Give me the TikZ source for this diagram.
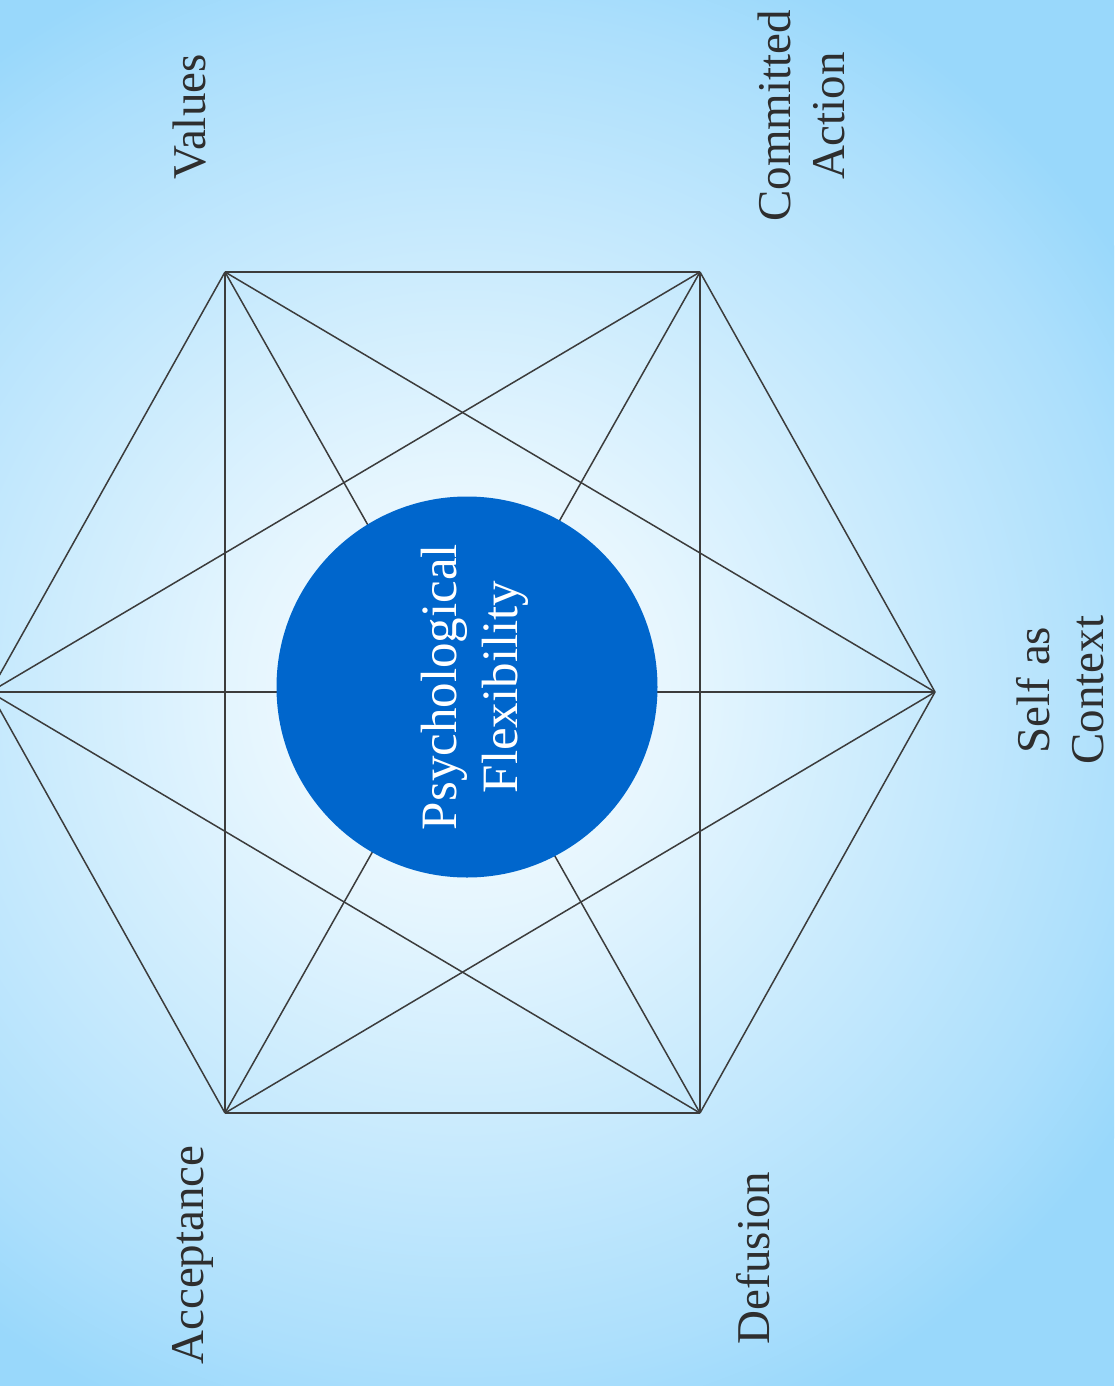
\documentclass[tikz,border=0pt]{standalone}
\usepackage{fontspec}
\setmainfont{Liberation Serif}
\definecolor{bgouter}{HTML}{99D8FB}
\definecolor{bgmid}{HTML}{ACDFFC}
\definecolor{bginner}{HTML}{E4F5FE}
\definecolor{pfblue}{HTML}{0066CC}
\definecolor{linegray}{HTML}{3C3C3C}
\definecolor{textgray}{HTML}{2E2E2E}
\pgfdeclareradialshading{bgshade}{\pgfpoint{0bp}{0bp}}{%
  color(0bp)=(white); color(2.5bp)=(white!60!bginner); color(7.3bp)=(bginner);
  color(21.4bp)=(bgmid); color(25bp)=(bgouter); color(50bp)=(bgouter)}
\tikzset{
  edge/.style={draw=linegray, line width=1.5pt},
  lbl/.style={rotate=90, align=center, inner sep=0pt, text=textgray,
    font=\fontsize{47}{54}\selectfont},
}
\begin{document}
\begin{tikzpicture}[x=1pt,y=-1pt]
\useasboundingbox (0,0) rectangle (1114,1386);
\begin{scope}
  \clip (0,0) rectangle (1114,1386);
  \fill[bgouter] (0,0) rectangle (1114,1386);
  \shade[shading=bgshade] (463,692) circle (790);
\end{scope}
\coordinate (v1) at (225,272);
\coordinate (v2) at (700,272);
\coordinate (v3) at (935,692);
\coordinate (v4) at (700,1113);
\coordinate (v5) at (225,1113);
\coordinate (v6) at (-10,692);
\foreach \a/\b in {v1/v2,v2/v3,v3/v4,v4/v5,v5/v6,v6/v1,
                   v1/v3,v1/v4,v1/v5,v2/v4,v2/v5,v2/v6,v3/v5,v3/v6,v4/v6}
  \draw[edge] (\a) -- (\b);
\node[circle, fill=pfblue, minimum size=381pt, inner sep=0pt] (pf) at (467,687) {};
\node[rotate=90, align=center, inner sep=0pt, text=white,
  font=\fontsize{51}{61}\selectfont] (pft) at (475,687) {Psychological\\Flexibility};
\node[lbl] (values) at (190,117) {Values};
\node[lbl] (committed) at (801,116) {Committed\\Action};
\node[lbl] (self) at (1060,690) {Self as\\Context};
\node[lbl] (defusion) at (753,1258) {Defusion};
\node[lbl] (acceptance) at (193,1255) {Acceptance};
\end{tikzpicture}
\end{document}
